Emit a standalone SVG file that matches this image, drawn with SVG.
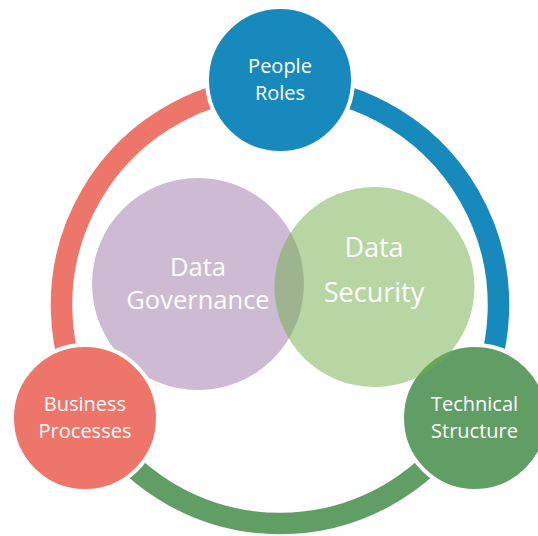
<svg xmlns="http://www.w3.org/2000/svg" width="538" height="536" viewBox="0 0 538 536">
<style>
.arc{fill:none;stroke-width:21.5;stroke-linecap:butt}
.node{stroke:#fff;stroke-width:4}
.t{font-family:"Open Sans","Noto Sans",sans-serif;fill:#fff;text-anchor:middle}
.s20{font-size:20px}
</style>
<rect width="538" height="536" fill="#fff"/>
<g id="connectors">
<path class="arc" stroke="#EE756A" d="M 280 86.5 A 218.5 218.5 0 0 0 90.8 414.25"/>
<path class="arc" stroke="#1889BC" d="M 280 86.5 A 218.5 218.5 0 0 1 469.2 414.25"/>
<path class="arc" stroke="#619E66" d="M 469.2 414.25 A 218.5 218.5 0 0 1 90.8 414.25"/>
</g>
<g id="data-governance">
<circle cx="198" cy="284" r="106" fill="#CDBBD4"/>
<text class="t" font-size="25.5" x="198" y="276">Data</text>
<text class="t" font-size="25.5" x="198" y="309">Governance</text>
</g>
<g id="people-roles">
<circle class="node" cx="280" cy="80" r="73" fill="#1889BC"/>
<text class="t s20" x="280" y="73">People</text>
<text class="t s20" x="280" y="100">Roles</text>
</g>
<g id="business-processes">
<circle class="node" cx="85" cy="418" r="73" fill="#EE756A"/>
<text class="t s20" x="85" y="411">Business</text>
<text class="t s20" x="85" y="438">Processes</text>
</g>
<g id="technical-structure">
<circle class="node" cx="475" cy="418" r="73" fill="#619E66"/>
<text class="t s20" x="474.5" y="411">Technical</text>
<text class="t s20" x="474.5" y="438">Structure</text>
</g>
<g id="data-security">
<circle cx="374.5" cy="287" r="100" fill="#70AD47" fill-opacity="0.5"/>
<text class="t" font-size="27" x="374" y="257">Data</text>
<text class="t" font-size="27" x="374" y="302">Security</text>
</g>
</svg>
